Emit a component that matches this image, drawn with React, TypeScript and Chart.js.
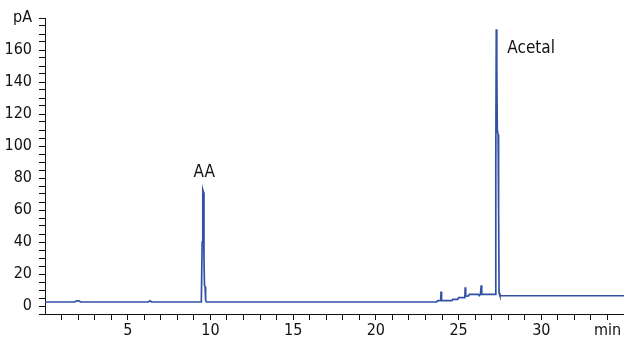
import React, { useEffect, useRef } from "react";
import { Chart, registerables } from "chart.js";

Chart.register(...registerables);

// Retention time (min) and detector signal (pA)
const times: number[] = [
  0, 1.8, 1.9, 2.05, 2.15, 6.25, 6.35, 6.45,
  9.45, 9.5, 9.54, 9.58, 9.61, 9.64, 9.68, 9.71, 9.77,
  23.65, 23.75, 23.92, 23.94, 23.97, 24.6, 24.65, 24.95, 25.0,
  25.38, 25.4, 25.43, 25.6, 25.65, 26.2, 26.25, 26.32, 26.37, 26.4,
  27.21, 27.25, 27.28, 27.31, 27.34, 27.39, 27.42, 27.45, 27.5, 35,
];
const signal: number[] = [
  2.5, 2.5, 3.2, 3.2, 2.5, 2.5, 3.3, 2.5,
  2.5, 40, 72.5, 71, 30, 13, 12, 3.5, 2.5,
  2.5, 3.3, 3.3, 9, 3.3, 3.3, 4.2, 4.2, 5.2,
  5.2, 11.7, 6.2, 6.3, 7.3, 7.3, 6.5, 7.3, 12.9, 7.3,
  7.3, 90, 173, 150, 110, 107, 60, 8, 6.4, 6.4,
];

const peakNames: string[] = ["AA", "Acetal"];
const peakLabelX: number[] = [9.62, 27.95];
const peakLabelY: number[] = [83.5, 161];
const peakLabelAlign: CanvasTextAlign[] = ["center", "left"];

const xTicks: number[] = Array.from({ length: 34 }, (_, i) => i + 1);
const xLabelEvery = 5;
const xUnitLabel = "min";
const yTicks: number[] = Array.from({ length: 38 }, (_, i) => -5 + i * 5);
const yLabelEvery = 20;
const yUnitLabel = "pA";

const FONT = "'DejaVu Sans Condensed', 'Liberation Sans Narrow', sans-serif";
const INK = "#111111";

export default function App() {
  const ref = useRef<HTMLCanvasElement | null>(null);
  useEffect(() => {
    document.body.style.margin = "0";
    const canvas = ref.current;
    if (!canvas) return;

    const peakLabels = {
      id: "peakLabels",
      afterDatasetsDraw(chart: any) {
        const ctx = chart.ctx;
        const xs = chart.scales.x;
        const ys = chart.scales.y;
        ctx.save();
        ctx.fillStyle = INK;
        ctx.font = `17px ${FONT}`;
        ctx.textBaseline = "middle";
        peakNames.forEach((name, i) => {
          ctx.textAlign = peakLabelAlign[i];
          ctx.fillText(name, xs.getPixelForValue(peakLabelX[i]), ys.getPixelForValue(peakLabelY[i]));
        });
        ctx.restore();
      },
    };

    const chart = new Chart(canvas, {
      type: "line",
      data: {
        datasets: [
          {
            data: times.map((t, i) => ({ x: t, y: signal[i] })),
            borderColor: "#3251a6",
            borderWidth: 1.7,
            pointRadius: 0,
            tension: 0,
            fill: false,
          },
        ],
      },
      options: {
        animation: false,
        responsive: false,
        maintainAspectRatio: false,
        events: [],
        layout: { padding: { top: 18, right: 0, bottom: 0, left: 0 } },
        plugins: { legend: { display: false }, tooltip: { enabled: false } },
        scales: {
          x: {
            type: "linear",
            min: 0,
            max: 35,
            afterBuildTicks: (scale: any) => {
              scale.ticks = xTicks.map((v) => ({ value: v }));
            },
            afterFit: (scale: any) => {
              scale.height = 26;
            },
            border: { display: true, color: INK, width: 1 },
            grid: { display: true, drawOnChartArea: false, drawTicks: true, tickLength: 6, color: INK },
            ticks: {
              autoSkip: false,
              maxRotation: 0,
              padding: 1,
              color: INK,
              font: { family: FONT, size: 16 },
              callback: (v: any) =>
                v === 34 ? xUnitLabel : v % xLabelEvery === 0 ? String(v) : "",
            },
          },
          y: {
            type: "linear",
            min: -5,
            max: 180,
            afterBuildTicks: (scale: any) => {
              scale.ticks = yTicks.map((v) => ({ value: v }));
            },
            afterFit: (scale: any) => {
              scale.width = 45;
            },
            border: { display: true, color: INK, width: 1 },
            grid: { display: true, drawOnChartArea: false, drawTicks: true, tickLength: 6, color: INK },
            ticks: {
              autoSkip: false,
              padding: 7,
              color: INK,
              font: { family: FONT, size: 16 },
              callback: (v: any) =>
                v === 180 ? yUnitLabel : v % yLabelEvery === 0 ? String(v) : "",
            },
          },
        },
      },
      plugins: [peakLabels],
    });
    return () => chart.destroy();
  }, []);

  return <canvas ref={ref} width={624} height={340} style={{ display: "block" }} />;
}
